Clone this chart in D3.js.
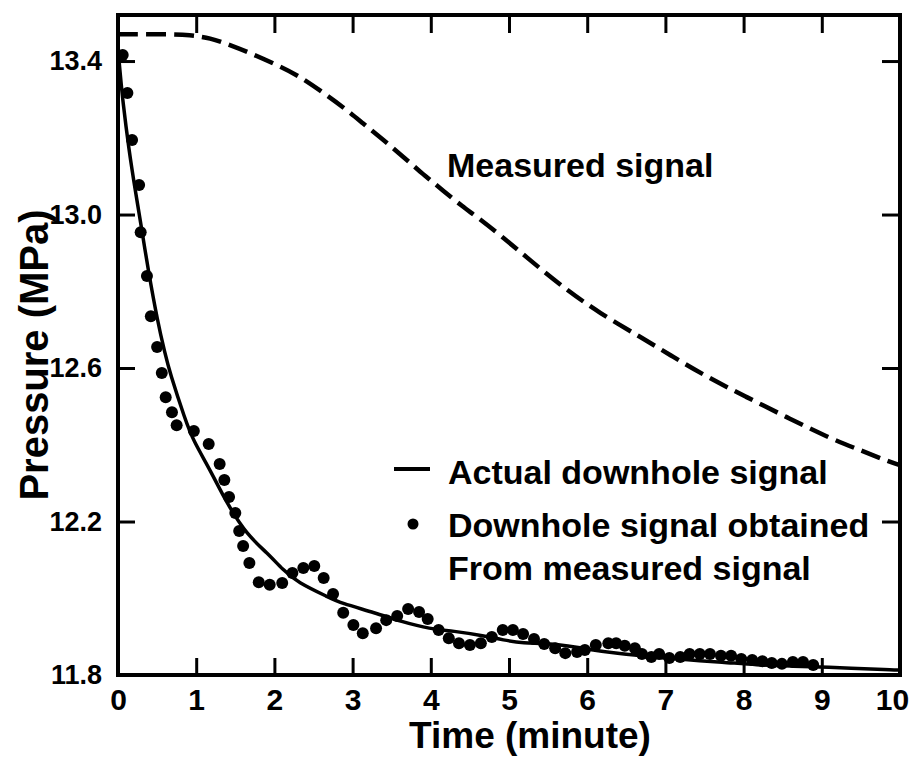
<!DOCTYPE html>
<html>
<head>
<meta charset="utf-8">
<script src="https://cdn.jsdelivr.net/npm/d3@7"></script>
<style>
  body { margin: 0; background: #fff; }
  svg { display: block; }
  text { font-family: "Liberation Sans", Arial, sans-serif; font-weight: bold; fill: #000; }
</style>
</head>
<body>
<svg width="915" height="763"></svg>
<script>
// Measured signal (dashed)
const measuredTime = [0, 0.32, 0.63, 0.92, 1.18, 1.43, 1.69, 2.03, 2.29, 2.58, 2.88, 3.13, 3.39, 3.65, 3.90, 4.16,
  4.41, 4.59, 4.92, 5.31, 5.74, 6.16, 6.68, 7.10, 7.53, 8.04, 8.55, 9.07, 9.49, 9.87, 10];
const measuredPressure = [13.470, 13.470, 13.470, 13.468, 13.460, 13.442, 13.421, 13.390, 13.364, 13.324, 13.280,
  13.238, 13.195, 13.150, 13.105, 13.062, 13.020, 12.994, 12.941, 12.874, 12.803, 12.743, 12.681, 12.629, 12.577,
  12.524, 12.472, 12.420, 12.386, 12.355, 12.347];

// Actual downhole signal (solid)
const actualTime = [0, 0.03, 0.06, 0.14, 0.22, 0.32, 0.38, 0.51, 0.60, 0.66, 0.86, 0.96, 1.18, 1.39, 1.65, 1.91,
  2.11, 2.29, 2.71, 2.84, 3.29, 3.64, 3.99, 4.28, 4.69, 4.92, 5.20, 5.43, 5.78, 5.97, 6.42, 6.85, 7.29, 7.72, 8.17,
  8.61, 9.00, 9.94, 10];
const actualPressure = [13.430, 13.364, 13.298, 13.168, 13.064, 12.941, 12.863, 12.717, 12.639, 12.590, 12.465,
  12.412, 12.334, 12.248, 12.165, 12.118, 12.074, 12.042, 12.001, 11.988, 11.962, 11.938, 11.920, 11.915, 11.902,
  11.891, 11.883, 11.883, 11.876, 11.868, 11.855, 11.847, 11.839, 11.834, 11.826, 11.823, 11.821, 11.813, 11.813];

// Downhole signal obtained from measured signal (dots)
const dotTime = [0.06, 0.12, 0.18, 0.27, 0.29, 0.37, 0.42, 0.50, 0.56, 0.61, 0.69, 0.75, 0.97, 1.16, 1.30, 1.36,
  1.42, 1.50, 1.55, 1.60, 1.68, 1.80, 1.94, 2.10, 2.23, 2.37, 2.51, 2.63, 2.75, 2.88, 3.01, 3.13, 3.30, 3.43, 3.57,
  3.71, 3.85, 3.96, 4.10, 4.23, 4.36, 4.50, 4.64, 4.78, 4.92, 5.05, 5.18, 5.32, 5.45, 5.59, 5.72, 5.87, 5.97, 6.11,
  6.27, 6.37, 6.48, 6.61, 6.70, 6.82, 6.92, 7.05, 7.19, 7.31, 7.44, 7.57, 7.71, 7.84, 7.97, 8.11, 8.24, 8.36, 8.49,
  8.63, 8.76, 8.89];
const dotPressure = [13.416, 13.317, 13.194, 13.077, 12.954, 12.840, 12.735, 12.655, 12.587, 12.524, 12.485, 12.451,
  12.436, 12.402, 12.350, 12.308, 12.264, 12.222, 12.175, 12.136, 12.092, 12.042, 12.035, 12.040, 12.066, 12.079,
  12.084, 12.053, 12.011, 11.962, 11.930, 11.909, 11.922, 11.943, 11.954, 11.972, 11.964, 11.946, 11.917, 11.896,
  11.883, 11.878, 11.883, 11.899, 11.917, 11.917, 11.907, 11.894, 11.881, 11.870, 11.857, 11.860, 11.865, 11.878,
  11.883, 11.883, 11.876, 11.870, 11.855, 11.847, 11.855, 11.844, 11.847, 11.855, 11.855, 11.855, 11.850, 11.850,
  11.842, 11.839, 11.836, 11.831, 11.829, 11.834, 11.834, 11.826];

// axis ticks
const xTicks = [0, 1, 2, 3, 4, 5, 6, 7, 8, 9, 10];
const xTickLabels = ["0", "1", "2", "3", "4", "5", "6", "7", "8", "9", "10"];
const yTicks = [11.8, 12.2, 12.6, 13.0, 13.4];
const yTickLabels = ["11.8", "12.2", "12.6", "13.0", "13.4"];

const svg = d3.select("svg");
const area = { left: 118, right: 900, top: 15, bottom: 675 };

const scX = d3.scaleLinear().domain([0, 10]).range([area.left, area.right]);
const scY = d3.scaleLinear().domain([11.8, 13.52]).range([area.bottom, area.top]);

// оси: внутренние засечки со всех четырёх сторон
function styleAxis(g, fontSize) {
  g.select(".domain").remove();
  g.selectAll(".tick line").attr("stroke", "#000").attr("stroke-width", 3);
  g.selectAll(".tick text").style("font-size", fontSize + "px");
}

const axisBottom = svg.append("g")
  .attr("transform", `translate(0, ${area.bottom})`)
  .call(d3.axisBottom(scX).tickValues(xTicks).tickFormat((d, i) => xTickLabels[i]).tickSize(-17).tickPadding(14))
  .call(g => styleAxis(g, 30));
// последняя подпись "10" сдвинута влево, чтобы не выходить за край
axisBottom.selectAll(".tick text").filter(d => d === 10).attr("dx", -8);

svg.append("g")
  .attr("transform", `translate(0, ${area.top})`)
  .call(d3.axisTop(scX).tickValues(xTicks.slice(1, -1)).tickFormat("").tickSize(-18))
  .call(g => styleAxis(g, 30));
svg.append("g")
  .attr("transform", `translate(${area.left}, 0)`)
  .call(d3.axisLeft(scY).tickValues(yTicks).tickFormat((d, i) => yTickLabels[i]).tickSize(-17).tickPadding(16))
  .call(g => styleAxis(g, 27));
svg.append("g")
  .attr("transform", `translate(${area.right}, 0)`)
  .call(d3.axisRight(scY).tickValues(yTicks).tickFormat("").tickSize(-18))
  .call(g => styleAxis(g, 27));

// рамка
svg.append("rect")
  .attr("x", area.left)
  .attr("y", area.top)
  .attr("width", area.right - area.left)
  .attr("height", area.bottom - area.top)
  .attr("fill", "none")
  .attr("stroke", "#000")
  .attr("stroke-width", 4);

// сглаженные кривые
const line = d3.line()
  .x(d => scX(d[0]))
  .y(d => scY(d[1]))
  .curve(d3.curveBasis);

svg.append("path")
  .datum(measuredTime.map((t, i) => [t, measuredPressure[i]]))
  .attr("d", line)
  .attr("fill", "none")
  .attr("stroke", "#000")
  .attr("stroke-width", 4.5)
  .attr("stroke-dasharray", "20 8");

svg.append("path")
  .datum(actualTime.map((t, i) => [t, actualPressure[i]]))
  .attr("d", line)
  .attr("fill", "none")
  .attr("stroke", "#000")
  .attr("stroke-width", 3.5);

svg.selectAll(".dot")
  .data(dotTime.map((t, i) => [t, dotPressure[i]]))
  .enter()
  .append("circle")
  .attr("class", "dot")
  .attr("cx", d => scX(d[0]))
  .attr("cy", d => scY(d[1]))
  .attr("r", 6)
  .attr("fill", "#000");

// подписи
svg.append("text")
  .attr("x", 447).attr("y", 177)
  .style("font-size", "34px")
  .text("Measured signal");

svg.append("line")
  .attr("x1", 394).attr("x2", 430)
  .attr("y1", 469).attr("y2", 469)
  .attr("stroke", "#000").attr("stroke-width", 4);
svg.append("circle")
  .attr("cx", 413).attr("cy", 524).attr("r", 5.5)
  .attr("fill", "#000");

const legendLines = [["Actual downhole signal", 484], ["Downhole signal obtained", 537], ["From measured signal", 580]];
legendLines.forEach(([txt, y]) => {
  svg.append("text")
    .attr("x", 448).attr("y", y)
    .style("font-size", "34px")
    .text(txt);
});

svg.append("text")
  .attr("x", 530).attr("y", 748)
  .attr("text-anchor", "middle")
  .style("font-size", "37px")
  .text("Time (minute)");

svg.append("text")
  .attr("transform", "translate(48, 355) rotate(-90)")
  .attr("text-anchor", "middle")
  .style("font-size", "40px")
  .text("Pressure (MPa)");
</script>
</body>
</html>
